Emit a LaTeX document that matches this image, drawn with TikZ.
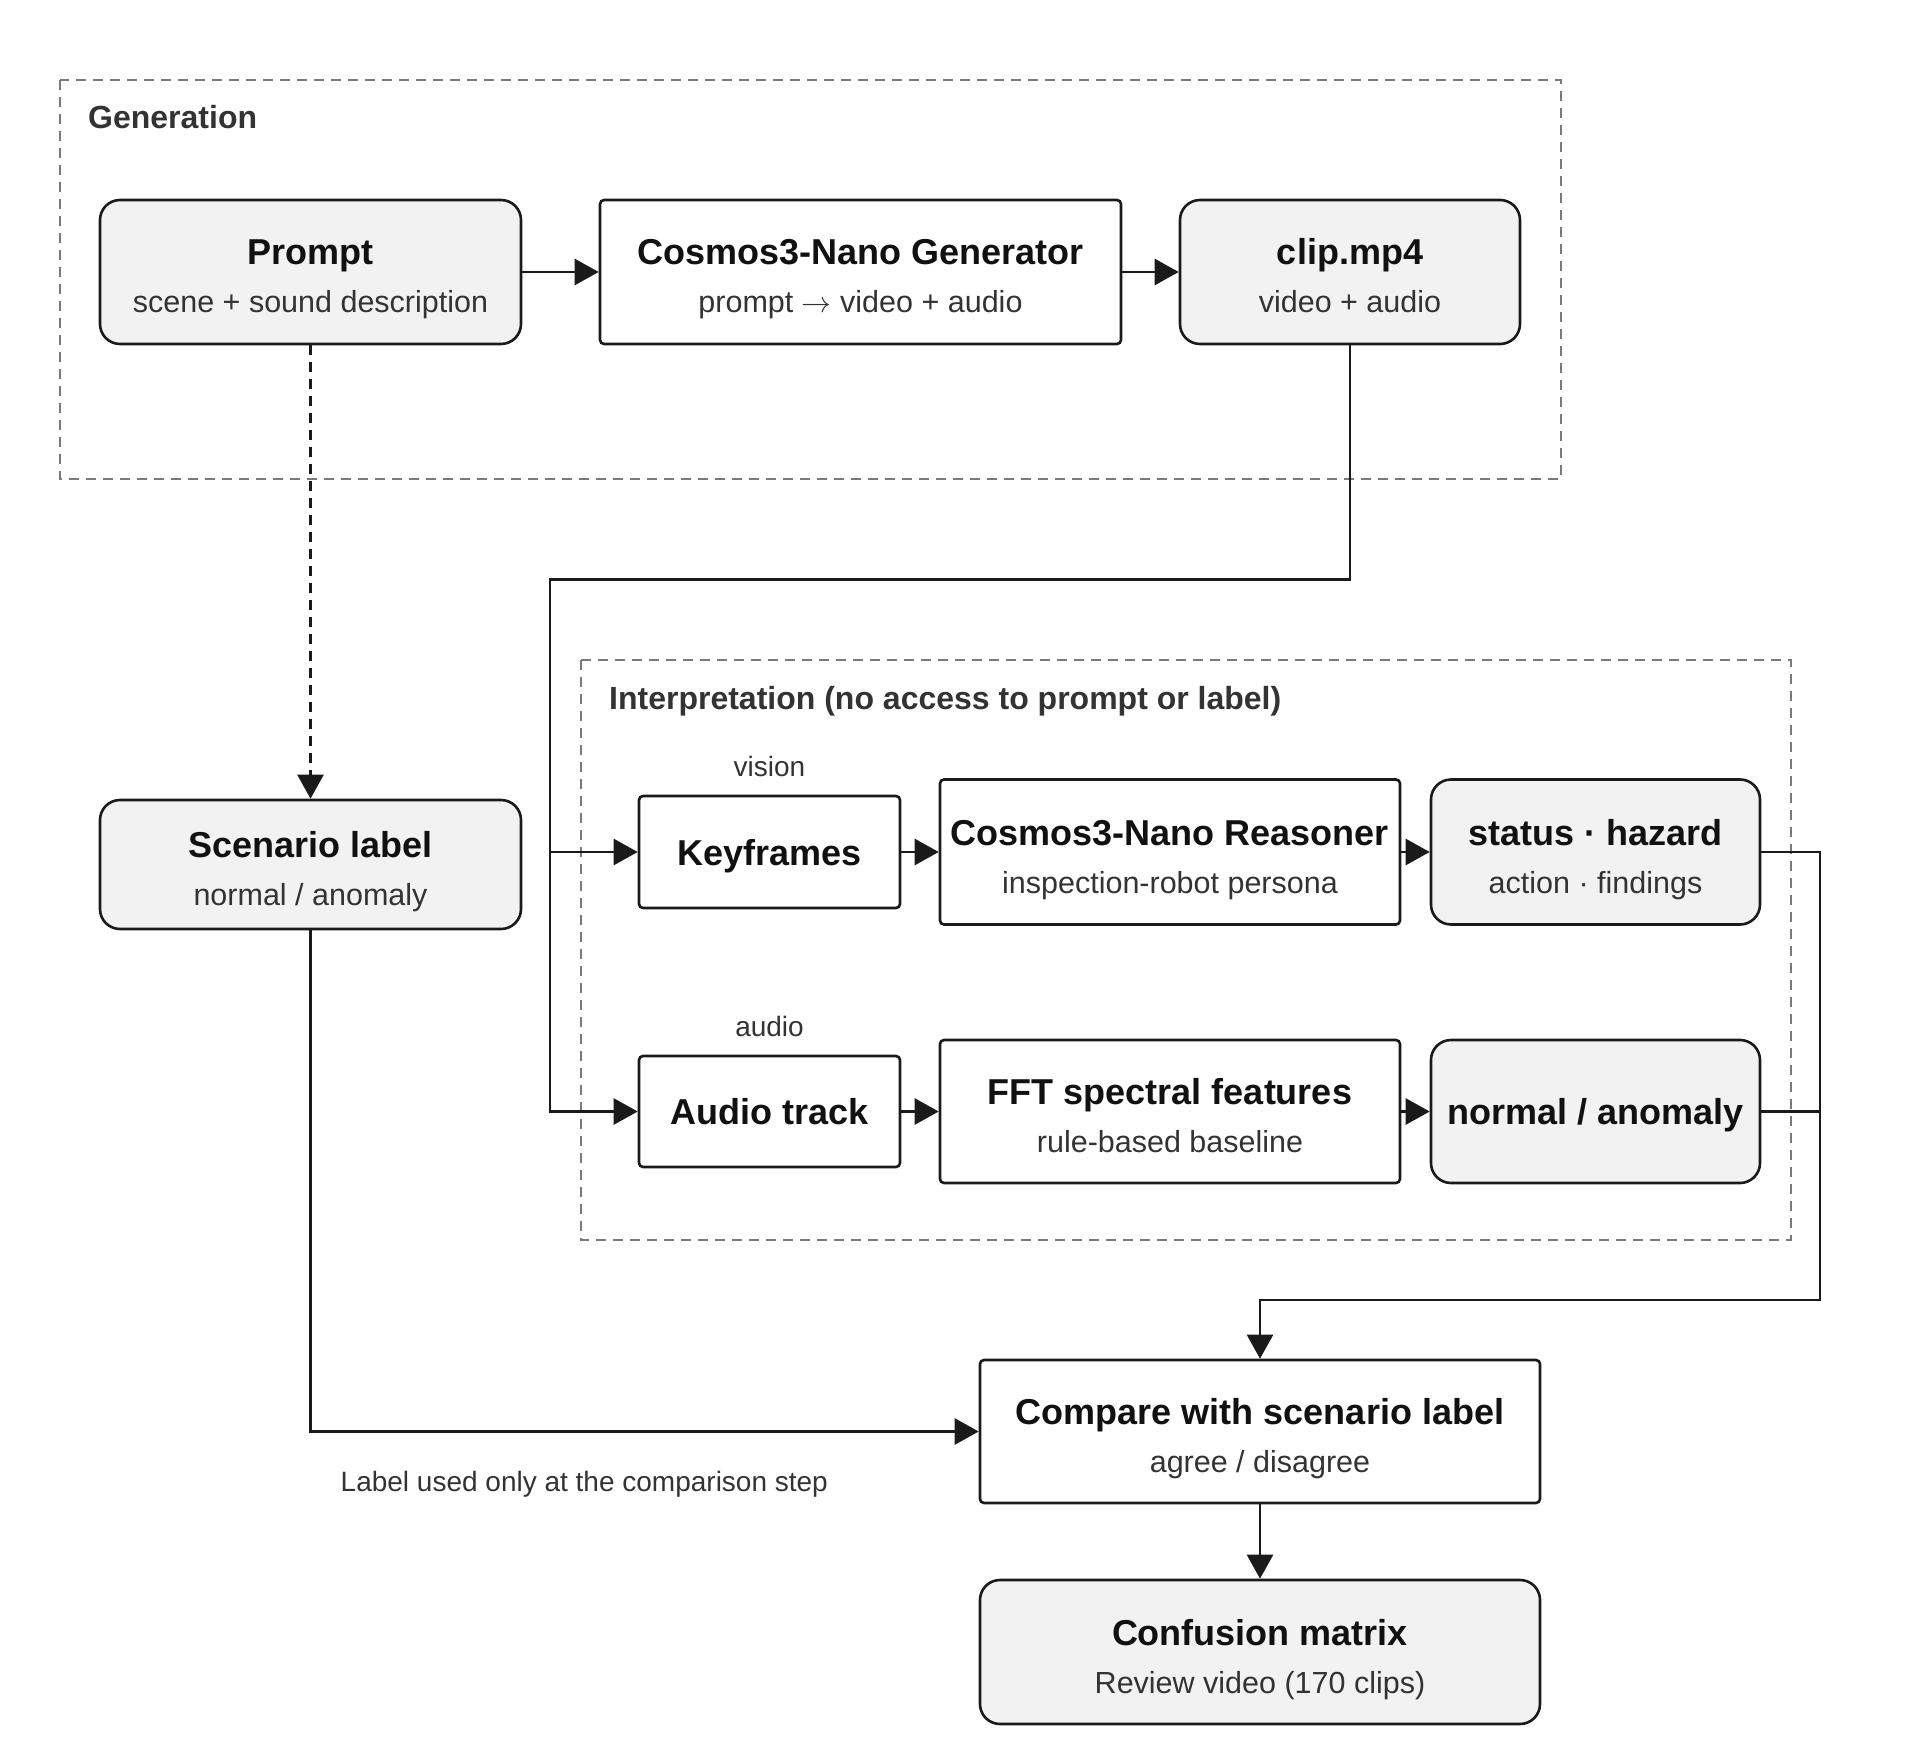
\documentclass[tikz,border=0pt]{standalone}
\usepackage{fontspec}
\setmainfont{Liberation Sans}
\usetikzlibrary{arrows.meta}
\definecolor{linec}{HTML}{1A1A1A}
\definecolor{boxgray}{HTML}{F2F2F2}
\definecolor{dashc}{HTML}{7A7A7A}
\definecolor{titlec}{HTML}{111111}
\definecolor{subc}{HTML}{333333}
\definecolor{grpc}{HTML}{333333}
\newcommand\ttlfont{\fontsize{36}{40}\selectfont\bfseries}
\newcommand\subfont{\fontsize{30.5}{34}\selectfont}
\newcommand\grpfont{\fontsize{32}{36}\selectfont\bfseries}
\newcommand\smallfont{\fontsize{28}{32}\selectfont}
\newcommand\myarrow{\scalebox{1.2}{\fontsize{24.88}{28}\selectfont$\rightarrow$}}
\tikzset{
  gbox/.style={draw=linec, line width=2.6pt, fill=boxgray, rounded corners=20pt, inner sep=0pt},
  wbox/.style={draw=linec, line width=2.6pt, fill=white, rounded corners=4pt, inner sep=0pt},
  group/.style={draw=dashc, line width=2pt, dash pattern=on 10pt off 7pt},
  ttl/.style={anchor=base, inner sep=0pt, font=\ttlfont, text=titlec},
  subt/.style={anchor=base, inner sep=0pt, font=\subfont, text=subc},
  grp/.style={anchor=base west, inner sep=0pt, font=\grpfont, text=grpc},
  note/.style={anchor=base, inner sep=0pt, font=\smallfont, text=subc},
  conn/.style={draw=linec, line width=2.6pt},
  arr/.style={conn, -{Triangle[length=24pt,width=26pt]}},
}
\begin{document}
\begin{tikzpicture}[x=1pt,y=-1pt]
\useasboundingbox (0,0) rectangle (1920,1760);
% groups
\draw[group] (60,80) rectangle (1561,479);
\node[grp] (glab) at (88,129) {Generation};
\draw[group] (581,660) rectangle (1791,1240);
\node[grp] (ilab) at (609,709) {Interpretation (no access to prompt or label)};
% boxes
\node[gbox, minimum width=421pt, minimum height=144pt] (prompt) at (310.5,272) {};
\node[ttl] (prompt-t) at (310.5,265) {Prompt};
\node[subt] (prompt-s) at (310.5,313) {scene + sound description};
\node[wbox, minimum width=521pt, minimum height=144pt] (gen) at (860.5,272) {};
\node[ttl] (gen-t) at (860.5,265) {Cosmos3-Nano Generator};
\node[subt] (gen-s) at (860.5,313) {prompt \myarrow{} video + audio};
\node[gbox, minimum width=340pt, minimum height=144pt] (clip) at (1350,272) {};
\node[ttl] (clip-t) at (1350,265) {clip.mp4};
\node[subt] (clip-s) at (1350,313) {video + audio};
\node[gbox, minimum width=421pt, minimum height=129pt] (scen) at (310.5,864.5) {};
\node[ttl] (scen-t) at (310.5,857.5) {Scenario label};
\node[subt] (scen-s) at (310.5,905.5) {normal / anomaly};
% interpretation row 1
\node[note] (vis) at (769.5,776) {vision};
\node[wbox, minimum width=261pt, minimum height=112pt] (keyf) at (769.5,852) {};
\node[ttl] (keyf-t) at (769.5,865) {Keyframes};
\node[wbox, minimum width=460pt, minimum height=145pt] (reas) at (1170,852) {};
\node[ttl] (reas-t) at (1170,845) {Cosmos3-Nano Reasoner};
\node[subt] (reas-s) at (1170,893) {inspection-robot persona};
\node[gbox, minimum width=329pt, minimum height=145pt] (stat) at (1595.5,852) {};
\node[ttl] (stat-t) at (1595.5,845) {status · hazard};
\node[subt] (stat-s) at (1595.5,893) {action · findings};
% row 2
\node[note] (aud) at (769.5,1036) {audio};
\node[wbox, minimum width=261pt, minimum height=111pt] (audt) at (769.5,1111.5) {};
\node[ttl] (audt-t) at (769.5,1124.5) {Audio track};
\node[wbox, minimum width=460pt, minimum height=143pt] (fft) at (1170,1111.5) {};
\node[ttl] (fft-t) at (1170,1104.5) {FFT spectral features};
\node[subt] (fft-s) at (1170,1152.5) {rule-based baseline};
\node[gbox, minimum width=329pt, minimum height=143pt] (norm) at (1595.5,1111.5) {};
\node[ttl] (norm-t) at (1595.5,1124.5) {normal / anomaly};
% bottom
\node[wbox, minimum width=560pt, minimum height=143pt] (cmp) at (1260,1431.5) {};
\node[ttl] (cmp-t) at (1260,1424.5) {Compare with scenario label};
\node[subt] (cmp-s) at (1260,1472.5) {agree / disagree};
\node[gbox, minimum width=560pt, minimum height=144pt] (conf) at (1260,1652) {};
\node[ttl] (conf-t) at (1260,1645) {Confusion matrix};
\node[subt] (conf-s) at (1260,1693) {Review video (170 clips)};
\node[note, anchor=base west] (lnote) at (340.5,1491) {Label used only at the comparison step};
% connectors
\coordinate (j1) at (550,579.4);
\coordinate (j2) at (1820,1300);
\draw[arr] (prompt.east) -- (gen.west);
\draw[arr] (gen.east) -- (clip.west);
\draw[arr, dash pattern=on 10pt off 7pt] (prompt.south) -- (scen.north);
\draw[arr] (clip.south) |- (j1) |- (audt.west);
\draw[arr] (j1 |- keyf.west) -- (keyf.west);
\draw[arr] (keyf.east) -- (reas.west);
\draw[arr] (reas.east) -- (stat.west);
\draw[arr] (audt.east) -- (fft.west);
\draw[arr] (fft.east) -- (norm.west);
\draw[arr] (stat.east) -| (j2) -| (cmp.north);
\draw[conn] (norm.east) -- (norm.east -| j2);
\draw[arr] (scen.south) |- (cmp.west);
\draw[arr] (cmp.south) -- (conf.north);
\end{tikzpicture}
\end{document}
